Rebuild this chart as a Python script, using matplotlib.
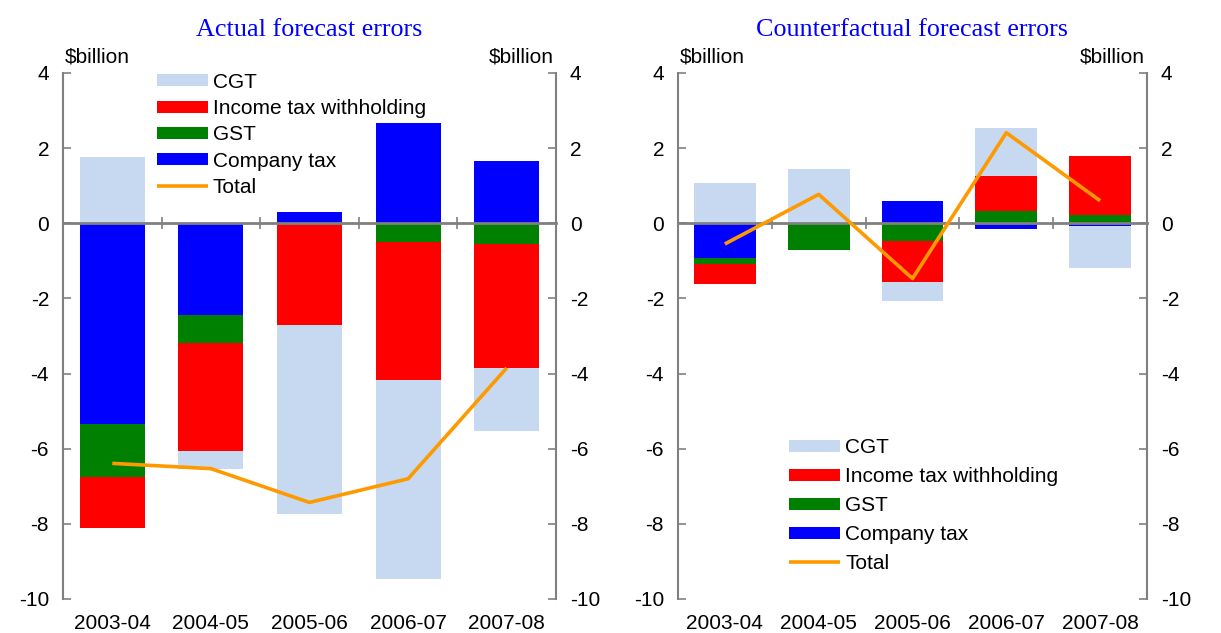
import matplotlib
matplotlib.use("Agg")
import matplotlib.pyplot as plt
import numpy as np

categories = ["2003-04", "2004-05", "2005-06", "2006-07", "2007-08"]
series_names = ["Company tax", "GST", "Income tax withholding", "CGT"]

actual_company = [-5.33, -2.45, 0.30, 2.67, 1.66]
actual_gst = [-1.42, -0.73, 0.0, -0.50, -0.54]
actual_income = [-1.37, -2.89, -2.70, -3.68, -3.32]
actual_cgt = [1.77, -0.47, -5.04, -5.30, -1.68]
actual_total = [-6.39, -6.53, -7.43, -6.80, -3.85]

counter_company = [-0.92, 0.0, 0.60, -0.14, -0.08]
counter_gst = [-0.16, -0.72, -0.46, 0.32, 0.22]
counter_income = [-0.53, 0.0, -1.09, 0.95, 1.58]
counter_cgt = [1.07, 1.44, -0.53, 1.27, -1.11]
counter_total = [-0.55, 0.77, -1.47, 2.41, 0.60]

colors = {"Company tax": "#0000FF", "GST": "#008000",
          "Income tax withholding": "#FF0000", "CGT": "#C6D9F0"}
ORANGE = "#FF9900"
GREY = "#808080"
FS = 15

plt.rcParams["font.family"] = ["Liberation Sans", "DejaVu Sans"]
plt.rcParams["axes.unicode_minus"] = False

fig = plt.figure(figsize=(12.21, 6.33), dpi=100)
ax1 = fig.add_axes([63/1221, 1-599/633, 493/1221, 526/633])
ax2 = fig.add_axes([678/1221, 1-599/633, 469/1221, 526/633])


def draw(ax, comp, gst, inc, cgt, total, title, leg_anchor, labelspacing):
    x = np.arange(len(categories))
    data = [comp, gst, inc, cgt]
    pos = np.zeros(len(x))
    neg = np.zeros(len(x))
    handles = {}
    for name, vals in zip(series_names, data):
        vals = np.array(vals)
        bottoms = np.where(vals >= 0, pos, neg)
        h = ax.bar(x, vals, bottom=bottoms, width=0.66, color=colors[name],
                   edgecolor="none", zorder=2)
        handles[name] = h
        pos = pos + np.where(vals >= 0, vals, 0)
        neg = neg + np.where(vals < 0, vals, 0)
    ln, = ax.plot(x, total, color=ORANGE, lw=2.6, zorder=4,
                  solid_capstyle="butt")
    ax.set_xlim(-0.5, len(x) - 0.5)
    ax.set_ylim(-10, 4)
    ax.set_yticks(np.arange(-10, 5, 2))
    ax.tick_params(axis="y", which="both", left=True, right=True,
                   labelleft=True, labelright=True, direction="in",
                   length=6, width=1.2, color=GREY, labelsize=FS, pad=10)
    # x axis: category labels at bottom, boundary ticks at zero line
    ax.set_xticks(x)
    ax.set_xticklabels(categories)
    ax.set_xticks(x[:-1] + 0.5, minor=True)
    ax.tick_params(axis="x", which="major", bottom=True, top=False,
                   length=0, labelsize=FS, pad=11)
    ax.tick_params(axis="x", which="minor", bottom=False, top=True,
                   direction="inout", length=9, width=1.2, color=GREY)
    ax.spines["top"].set_position(("data", 0))
    ax.spines["top"].set_color(GREY)
    ax.spines["top"].set_linewidth(2)
    ax.spines["top"].set_zorder(3)
    ax.spines["bottom"].set_visible(False)
    for s in ("left", "right"):
        ax.spines[s].set_color(GREY)
        ax.spines[s].set_linewidth(1.5)
    ax.text(0.5, (599-30)/526, title, transform=ax.transAxes, ha="center",
            va="center", color="#0000FF", fontsize=18.8,
            family=["Liberation Serif", "DejaVu Serif"])
    ax.text(0.004, (599-57)/526, "$billion", transform=ax.transAxes,
            ha="left", va="center", fontsize=FS)
    ax.text(0.996, (599-57)/526, "$billion", transform=ax.transAxes,
            ha="right", va="center", fontsize=FS)
    order = ["CGT", "Income tax withholding", "GST", "Company tax"]
    hs = [handles[n] for n in order] + [ln]
    labs = order + ["Total"]
    ax.legend(hs, labs, loc="upper left", bbox_to_anchor=leg_anchor,
              frameon=False, fontsize=FS, borderpad=0, borderaxespad=0,
              handlelength=2.45, handleheight=0.5, handletextpad=0.25,
              labelspacing=labelspacing)


draw(ax1, actual_company, actual_gst, actual_income, actual_cgt, actual_total,
     "Actual forecast errors", (0.19, 1.0006), 0.35)
draw(ax2, counter_company, counter_gst, counter_income, counter_cgt,
     counter_total, "Counterfactual forecast errors", (0.237, 0.306), 0.48)

fig.savefig("out.png", dpi=100)
